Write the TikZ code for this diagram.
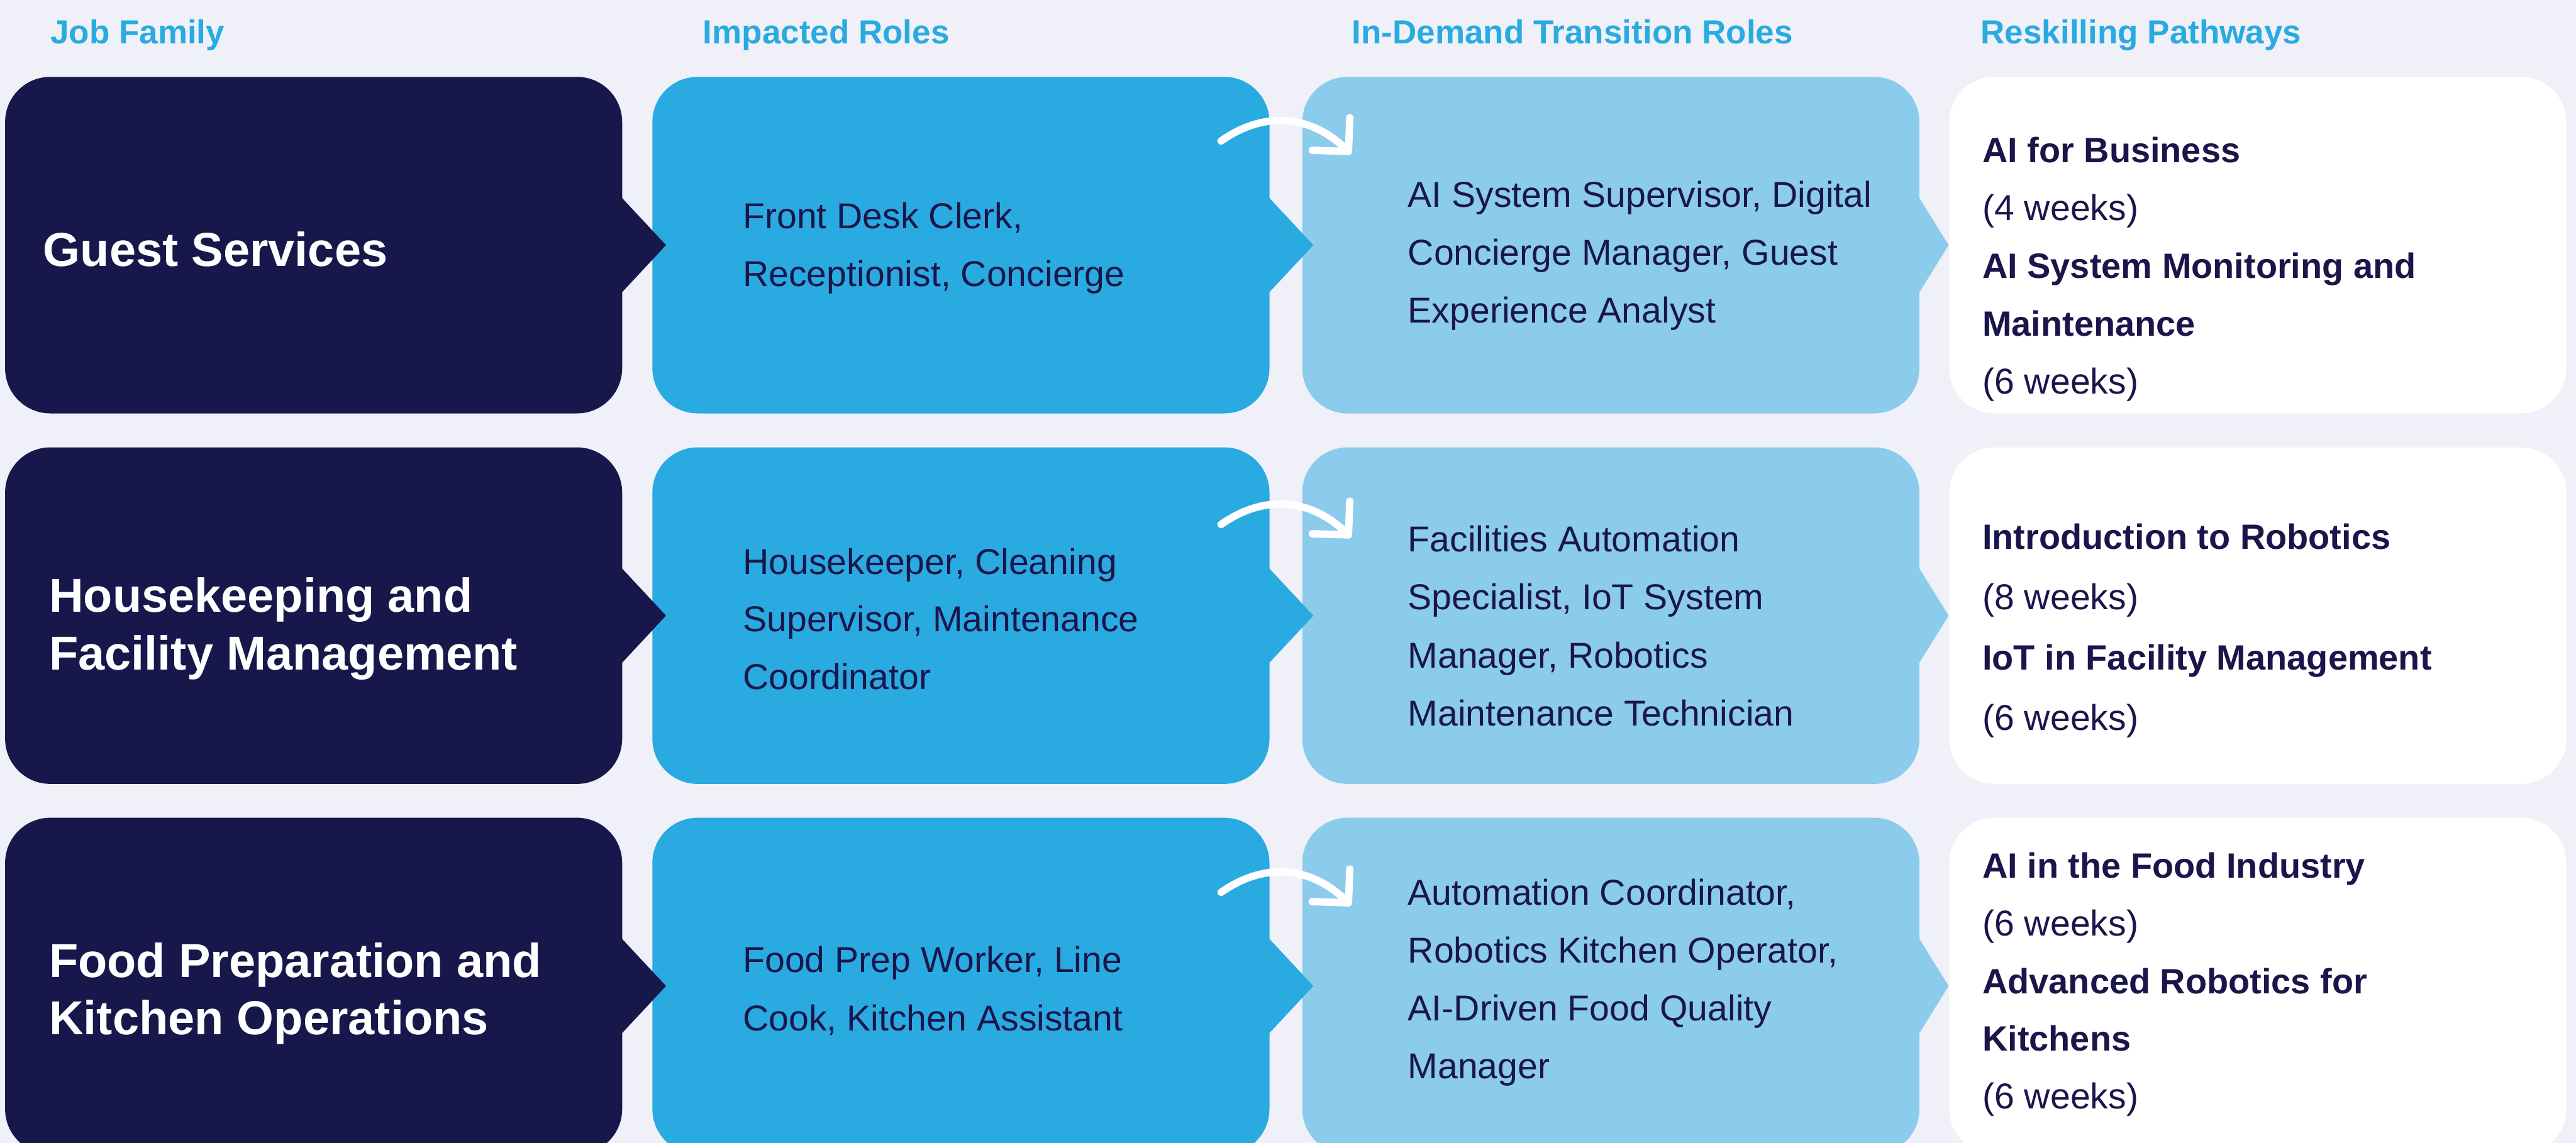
\documentclass[tikz,border=0pt]{standalone}
\usepackage{fontspec}
\setmainfont{Liberation Sans}
\definecolor{pagebg}{RGB}{239,240,248}
\definecolor{navy}{RGB}{24,23,75}
\definecolor{azure}{RGB}{41,170,225}
\definecolor{sky}{RGB}{139,203,235}
\definecolor{ink}{RGB}{26,22,75}
% a stack of lines whose baseline is the first line's baseline
\newcommand\stackat[2]{\vtop{\baselineskip=#1pt\relax #2}}
\newcommand\tline[1]{\hbox{#1}}
\newcommand\bline[1]{\hbox{\fontsize{21.4}{35}\selectfont\bfseries #1}}
\begin{document}
\begin{tikzpicture}[x=1pt,y=-1pt,
  card/.style={rectangle, rounded corners=27.5pt, minimum width=375.6pt,
    minimum height=204.9pt, inner sep=0pt, anchor=north west},
  famcard/.style={card, fill=navy},
  impcard/.style={card, fill=azure},
  newcard/.style={card, fill=sky},
  pathcard/.style={card, fill=white},
  hdr/.style={anchor=base west, inner sep=0pt, text=azure,
    font=\fontsize{20.3}{24}\selectfont\bfseries},
  famtext/.style={anchor=base west, inner sep=0pt, text=white,
    font=\fontsize{29}{35}\selectfont\bfseries},
  bodytext/.style={anchor=base west, inner sep=0pt, text=ink,
    font=\fontsize{21.9}{35.3}\selectfont},
  turn/.style={draw=white, line width=4.5pt, line cap=round, line join=round},
]
\useasboundingbox (0,0) rectangle (1568,695.95);
\clip (0,0) rectangle (1568,695.95);
\fill[pagebg] (0,0) rectangle (1568,695.95);

% column headings
\node[hdr] (h1) at (30.5,26.5) {Job Family};
\node[hdr] (h2) at (427.7,26.5) {Impacted Roles};
\node[hdr] (h3) at (822.7,26.5) {In-Demand Transition Roles};
\node[hdr] (h4) at (1205.5,26.5) {Reskilling Pathways};

% cards, one row per job family
\foreach \r/\top in {1/46.6, 2/272.2, 3/497.7} {
  \node[pathcard] (p\r) at (1186.3,\top) {};
  \node[newcard]  (t\r) at (792.5,\top) {};
  \node[impcard]  (i\r) at (396.9,\top) {};
  \node[famcard]  (f\r) at (2.9,\top) {};
}
% pointers on the right side of each card
\foreach \r in {1,2,3} {
  \fill[navy]  ([shift={(-1,-29.5)}]f\r.east) -- ([shift={(26.5,0)}]f\r.east)
               -- ([shift={(-1,29.5)}]f\r.east) -- cycle;
  \fill[azure] ([shift={(-1,-29.5)}]i\r.east) -- ([shift={(26.5,0)}]i\r.east)
               -- ([shift={(-1,29.5)}]i\r.east) -- cycle;
  \fill[sky]   ([shift={(-1,-30)}]t\r.east) -- ([shift={(17.6,0)}]t\r.east)
               -- ([shift={(-1,30)}]t\r.east) -- cycle;
}

% job families
\node[famtext] (f1t) at (26.2,162) {\stackat{35}{\tline{Guest Services}}};
\node[famtext] (f2t) at (29.7,372.7) {\stackat{35}{\tline{Housekeeping and}\tline{Facility Management}}};
\node[famtext] (f3t) at (29.7,595) {\stackat{35}{\tline{Food Preparation and}\tline{Kitchen Operations}}};

% impacted roles
\node[bodytext] (i1t) at (452,139.2) {\stackat{35.3}{\tline{Front Desk Clerk,}\tline{Receptionist, Concierge}}};
\node[bodytext] (i2t) at (452,349.6) {\stackat{35.1}{\tline{Housekeeper, Cleaning}\tline{Supervisor, Maintenance}\tline{Coordinator}}};
\node[bodytext] (i3t) at (452,592) {\stackat{35.6}{\tline{Food Prep Worker, Line}\tline{Cook, Kitchen Assistant}}};

% in-demand transition roles
\node[bodytext] (t1t) at (856.8,126.1) {\stackat{35.3}{\tline{AI System Supervisor, Digital}\tline{Concierge Manager, Guest}\tline{Experience Analyst}}};
\node[bodytext] (t2t) at (856.8,335.9) {\stackat{35.4}{\tline{Facilities Automation}\tline{Specialist, IoT System}\tline{Manager, Robotics}\tline{Maintenance Technician}}};
\node[bodytext] (t3t) at (856.8,551) {\stackat{35.2}{\tline{Automation Coordinator,}\tline{Robotics Kitchen Operator,}\tline{AI-Driven Food Quality}\tline{Manager}}};

% reskilling pathways
\node[bodytext] (p1t) at (1206.5,99.1) {\stackat{35.2}{\bline{AI for Business}\tline{(4 weeks)}\bline{AI System Monitoring and}\bline{Maintenance}\tline{(6 weeks)}}};
\node[bodytext] (p2t) at (1206.5,334.5) {\stackat{36.7}{\bline{Introduction to Robotics}\tline{(8 weeks)}\bline{IoT in Facility Management}\tline{(6 weeks)}}};
\node[bodytext] (p3t) at (1206.5,534.6) {\stackat{35.15}{\bline{AI in the Food Industry}\tline{(6 weeks)}\bline{Advanced Robotics for}\bline{Kitchens}\tline{(6 weeks)}}};

% curved transition arrows from impacted to in-demand roles
\foreach \r/\dy in {1/0, 2/233.5, 3/457.5} {
  \coordinate (s\r) at (743.3,85.8+\dy);
  \coordinate (e\r) at (820.6,92+\dy);
  \draw[turn] (s\r) .. controls +(26.2,-18.4) and +(-22.6,-22.6) .. (e\r);
  \draw[turn] ([shift={(-21.8,-0.5)}]e\r) -- ([shift={(0.2,0.2)}]e\r)
              -- ([shift={(1,-20.3)}]e\r);
}
\end{tikzpicture}
\end{document}
